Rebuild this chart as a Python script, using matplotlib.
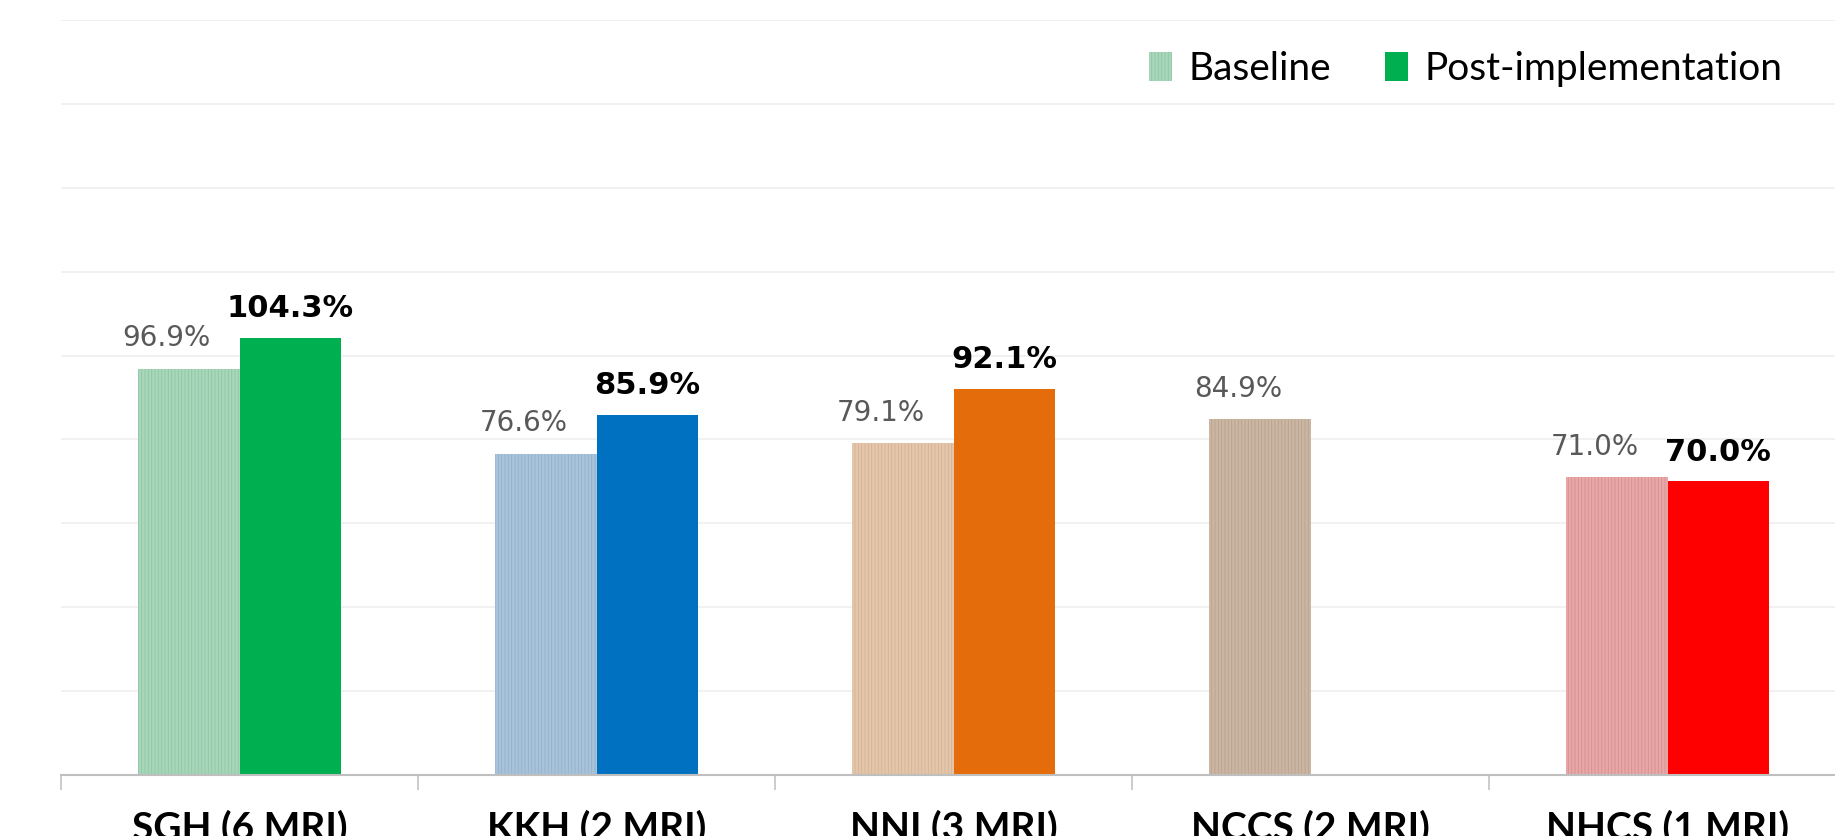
import matplotlib.pyplot as plt
import matplotlib.patches as mpatches
import numpy as np

# data
sites = ['SGH (6 MRI)', 'KKH (2 MRI)', 'NNI (3 MRI)', 'NCCS (2 MRI)', 'NHCS (1 MRI)']
baseline = [96.9, 76.6, 79.1, 84.9, 71.0]
post = [104.3, 85.9, 92.1, np.nan, 70.0]

# colours per site
base_face = ['#a8d6ba', '#a9c3da', '#e4c6aa', '#cbb6a3', '#e8a8a8']
base_hatch = ['#8ec7a3', '#90b0cd', '#d6b294', '#b9a28d', '#d88f8f']
post_colors = ['#00b050', '#0070c0', '#e46c0a', '#c0a890', '#ff0000']

plt.rcParams['hatch.linewidth'] = 0.6

fig = plt.figure(figsize=(18.35, 8.36), dpi=100)
ax = fig.add_axes([61 / 1835, 61 / 836, 1785 / 1835, 755 / 836])

x = np.arange(len(sites))
w = 0.283

for i in range(len(sites)):
    ax.bar(x[i] - w / 2, baseline[i], w, facecolor=base_face[i],
           edgecolor=base_hatch[i], hatch='|||||', linewidth=0, zorder=2)
    if not np.isnan(post[i]):
        ax.bar(x[i] + w / 2, post[i], w, color=post_colors[i], linewidth=0, zorder=2)

# value labels
for i in range(len(sites)):
    ax.annotate('%.1f%%' % baseline[i], (x[i] - w / 2, baseline[i]),
                xytext=(-16, 16), textcoords='offset points', ha='center',
                va='baseline', fontsize=20, color='#595959', family='DejaVu Sans')
    if not np.isnan(post[i]):
        ax.annotate('%.1f%%' % post[i], (x[i] + w / 2, post[i]),
                    xytext=(0, 15), textcoords='offset points', ha='center',
                    va='baseline', fontsize=22, fontweight='bold', color='black',
                    family='DejaVu Sans')

ax.set_xlim(-0.5, len(sites) - 0.5)
ax.set_ylim(0, 180)
ax.set_yticks(np.arange(20, 181, 20))
ax.yaxis.grid(True, color='#efefef', linewidth=1.2, zorder=0)
ax.tick_params(axis='y', left=False, labelleft=False)

ax.set_xticks(x)
ax.set_xticklabels(sites, fontsize=28, fontweight='bold', family='Lato')
ax.set_xticks(np.arange(-0.5, len(sites), 1), minor=True)
ax.tick_params(axis='x', which='major', length=0, pad=25)
ax.tick_params(axis='x', which='minor', length=11, width=1.1, color='#bfbfbf')

for s in ['top', 'left', 'right']:
    ax.spines[s].set_visible(False)
ax.spines['bottom'].set_color('#bfbfbf')
ax.spines['bottom'].set_linewidth(1.5)
ax.spines['bottom'].set_zorder(3)

handles = [mpatches.Patch(facecolor=base_face[0], edgecolor=base_hatch[0], hatch='|||||', linewidth=0),
           mpatches.Patch(color=post_colors[0], linewidth=0)]
leg = ax.legend(handles, ['Baseline', 'Post-implementation'], loc='center right',
                bbox_to_anchor=(1817 / 1835, 1 - 69 / 836), bbox_transform=fig.transFigure,
                ncol=2, frameon=False, prop={'family': 'Lato', 'size': 28},
                handlelength=0.6, handleheight=0.8, handletextpad=0.4, columnspacing=1.4)

fig.savefig('out.png', dpi=100)
